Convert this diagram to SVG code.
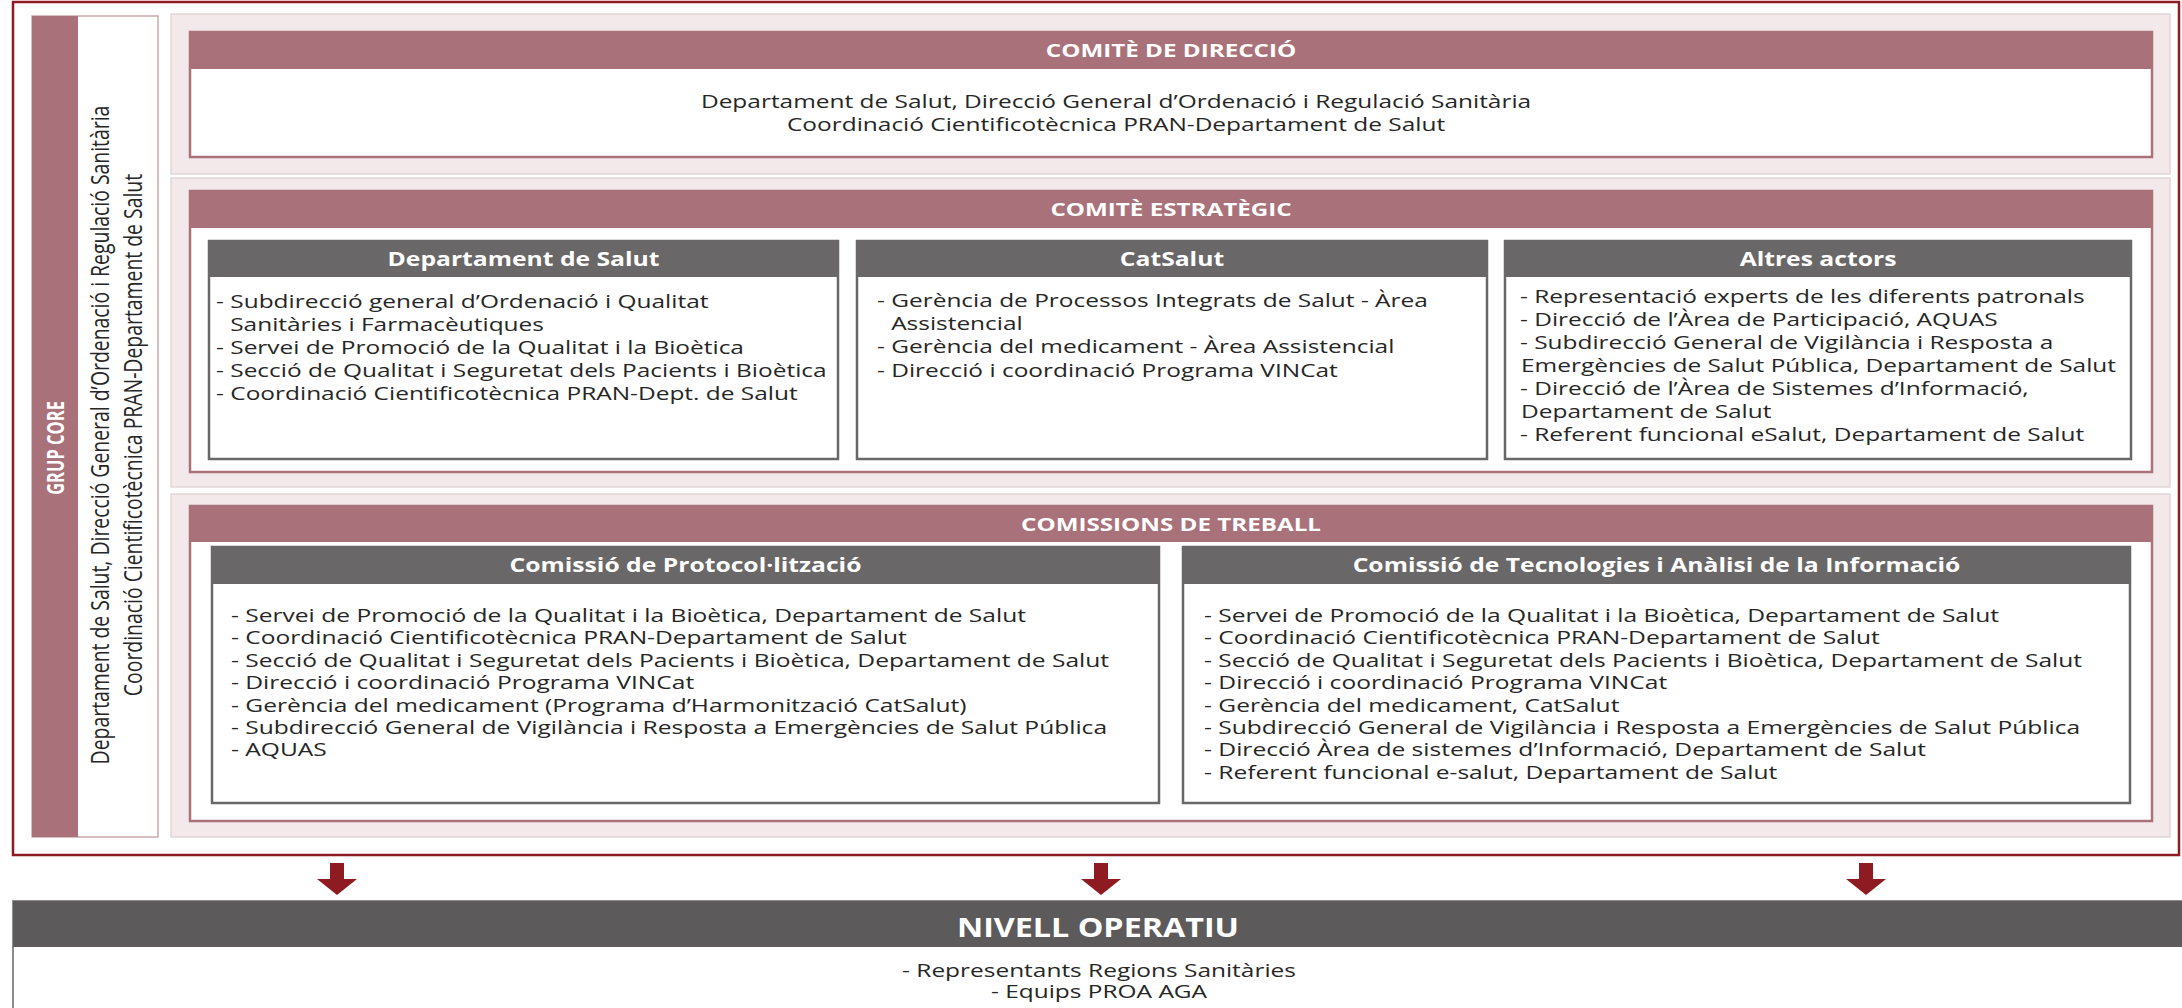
<svg xmlns="http://www.w3.org/2000/svg" width="2182" height="1008" viewBox="0 0 2182 1008">
<defs>
<style>
.t{font-family:"Open Sans","Liberation Sans",sans-serif;fill:#262626;}
.b{font-size:18.8px}
.c{font-size:18.9px}
.h{font-family:"Open Sans","Liberation Sans",sans-serif;font-weight:700;fill:#ffffff;text-anchor:middle}
.mauve{fill:#a9717a}
.sec{fill:#f3e9ea;stroke:#e2d6d7;stroke-width:1.5}
.panel{fill:#ffffff;stroke:#a9717a;stroke-width:2.5}
.box{fill:#ffffff;stroke:#6a6768;stroke-width:2.5}
.gh{fill:#6a6768}
.arrow{fill:#8e1b22}
</style>
</defs>
<rect width="2182" height="1008" fill="#ffffff"/>
<rect id="frame" x="13" y="2" width="2166" height="853" fill="none" stroke="#8e1b22" stroke-width="2.5"/>

<g id="grup-core">
<rect x="32" y="16" width="126" height="821" fill="#ffffff" stroke="#c9a9ad" stroke-width="1.5"/>
<rect x="32" y="16" width="46" height="821" class="mauve"/>
<text class="h" font-size="16.5" transform="translate(64,448) rotate(-90) scale(1,1.45)">GRUP CORE</text>
<text class="t" font-size="19.4" text-anchor="middle" transform="translate(109,435) rotate(-90) scale(1,1.3)">Departament de Salut, Direcció General d’Ordenació i Regulació Sanitària</text>
<text class="t" font-size="19.4" text-anchor="middle" transform="translate(142,435) rotate(-90) scale(1,1.3)">Coordinació Cientificotècnica PRAN-Departament de Salut</text>
</g>

<g id="comite-direccio">
<rect class="sec" x="171" y="14" width="1999" height="160"/>
<rect class="panel" x="190" y="32" width="1962" height="125"/>
<rect class="mauve" x="190" y="32" width="1962" height="37"/>
<g transform="scale(1.3 1)">
<text class="h" font-size="18.6" x="900.8" y="57">COMITÈ DE DIRECCIÓ</text>
<text class="t b" text-anchor="middle" x="858.5" y="108">Departament de Salut, Direcció General d’Ordenació i Regulació Sanitària</text>
<text class="t b" text-anchor="middle" x="858.5" y="131">Coordinació Cientificotècnica PRAN-Departament de Salut</text>
</g>
</g>

<g id="comite-estrategic">
<rect class="sec" x="171" y="178" width="1999" height="309"/>
<rect class="panel" x="190" y="191" width="1962" height="281"/>
<rect class="mauve" x="190" y="191" width="1962" height="37"/>
<g transform="scale(1.3 1)">
<text class="h" font-size="18.6" x="900.8" y="216">COMITÈ ESTRATÈGIC</text>
</g>
</g>

<g id="departament-salut">
<rect class="box" x="209" y="241" width="629" height="218"/>
<rect class="gh" x="209" y="241" width="629" height="36"/>
<g transform="scale(1.3 1)">
<text class="h" font-size="19" x="402.7" y="266">Departament de Salut</text>
<text class="t b" x="166.2" y="308">- Subdirecció general d’Ordenació i Qualitat</text>
<text class="t b" x="177.1" y="331">Sanitàries i Farmacèutiques</text>
<text class="t b" x="166.2" y="354">- Servei de Promoció de la Qualitat i la Bioètica</text>
<text class="t b" x="166.2" y="377">- Secció de Qualitat i Seguretat dels Pacients i Bioètica</text>
<text class="t b" x="166.2" y="400">- Coordinació Cientificotècnica PRAN-Dept. de Salut</text>
</g>
</g>

<g id="catsalut">
<rect class="box" x="857" y="241" width="630" height="218"/>
<rect class="gh" x="857" y="241" width="630" height="36"/>
<g transform="scale(1.3 1)">
<text class="h" font-size="19" x="901.5" y="266">CatSalut</text>
<text class="t b" x="674.6" y="307">- Gerència de Processos Integrats de Salut - Àrea</text>
<text class="t b" x="685.5" y="330">Assistencial</text>
<text class="t b" x="674.6" y="353">- Gerència del medicament - Àrea Assistencial</text>
<text class="t b" x="674.6" y="377">- Direcció i coordinació Programa VINCat</text>
</g>
</g>

<g id="altres-actors">
<rect class="box" x="1505" y="241" width="626" height="218"/>
<rect class="gh" x="1505" y="241" width="626" height="36"/>
<g transform="scale(1.3 1)">
<text class="h" font-size="19" x="1398.5" y="266">Altres actors</text>
<text class="t b" x="1169.2" y="303">- Representació experts de les diferents patronals</text>
<text class="t b" x="1169.2" y="326">- Direcció de l’Àrea de Participació, AQUAS</text>
<text class="t b" x="1169.2" y="349">- Subdirecció General de Vigilància i Resposta a</text>
<text class="t b" x="1170" y="372">Emergències de Salut Pública, Departament de Salut</text>
<text class="t b" x="1169.2" y="395">- Direcció de l’Àrea de Sistemes d’Informació,</text>
<text class="t b" x="1170" y="418">Departament de Salut</text>
<text class="t b" x="1169.2" y="441">- Referent funcional eSalut, Departament de Salut</text>
</g>
</g>

<g id="comissions-treball">
<rect class="sec" x="171" y="494" width="1999" height="343"/>
<rect class="panel" x="190" y="506" width="1962" height="315"/>
<rect class="mauve" x="190" y="506" width="1962" height="36"/>
<g transform="scale(1.3 1)">
<text class="h" font-size="18.6" x="900.8" y="531">COMISSIONS DE TREBALL</text>
</g>
</g>

<g id="comissio-protocol">
<rect class="box" x="212" y="547" width="947" height="256"/>
<rect class="gh" x="212" y="547" width="947" height="37"/>
<g transform="scale(1.3 1)">
<text class="h" font-size="19" x="527.3" y="572">Comissió de Protocol·lització</text>
<text class="t c" x="177.7" y="622">- Servei de Promoció de la Qualitat i la Bioètica, Departament de Salut</text>
<text class="t c" x="177.7" y="644.4">- Coordinació Cientificotècnica PRAN-Departament de Salut</text>
<text class="t c" x="177.7" y="666.8">- Secció de Qualitat i Seguretat dels Pacients i Bioètica, Departament de Salut</text>
<text class="t c" x="177.7" y="689.2">- Direcció i coordinació Programa VINCat</text>
<text class="t c" x="177.7" y="711.6">- Gerència del medicament (Programa d’Harmonització CatSalut)</text>
<text class="t c" x="177.7" y="734">- Subdirecció General de Vigilància i Resposta a Emergències de Salut Pública</text>
<text class="t c" x="177.7" y="756.4">- AQUAS</text>
</g>
</g>

<g id="comissio-tecnologies">
<rect class="box" x="1183" y="547" width="947" height="256"/>
<rect class="gh" x="1183" y="547" width="947" height="37"/>
<g transform="scale(1.3 1)">
<text class="h" font-size="19" x="1274.2" y="572">Comissió de Tecnologies i Anàlisi de la Informació</text>
<text class="t c" x="926.2" y="622">- Servei de Promoció de la Qualitat i la Bioètica, Departament de Salut</text>
<text class="t c" x="926.2" y="644.4">- Coordinació Cientificotècnica PRAN-Departament de Salut</text>
<text class="t c" x="926.2" y="666.8">- Secció de Qualitat i Seguretat dels Pacients i Bioètica, Departament de Salut</text>
<text class="t c" x="926.2" y="689.2">- Direcció i coordinació Programa VINCat</text>
<text class="t c" x="926.2" y="711.6">- Gerència del medicament, CatSalut</text>
<text class="t c" x="926.2" y="734">- Subdirecció General de Vigilància i Resposta a Emergències de Salut Pública</text>
<text class="t c" x="926.2" y="756.4">- Direcció Àrea de sistemes d’Informació, Departament de Salut</text>
<text class="t c" x="926.2" y="778.8">- Referent funcional e-salut, Departament de Salut</text>
</g>
</g>

<g id="connectors">
<path class="arrow" d="M330,863 H344 V879 H357 L337,895 L317,879 H330 Z"/>
<path class="arrow" d="M1094,863 H1108 V879 H1121 L1101,895 L1081,879 H1094 Z"/>
<path class="arrow" d="M1859,863 H1873 V879 H1886 L1866,895 L1846,879 H1859 Z"/>
</g>

<g id="nivell-operatiu">
<rect x="13" y="901" width="2180" height="120" fill="#ffffff" stroke="#8c8c8c" stroke-width="2"/>
<rect x="13" y="901" width="2180" height="46" fill="#5c5a5b"/>
<g transform="scale(1.3 1)">
<text class="h" font-size="27" x="844.6" y="937" textLength="217" lengthAdjust="spacingAndGlyphs">NIVELL OPERATIU</text>
<text class="t" font-size="18.8" text-anchor="middle" x="845.4" y="977">- Representants Regions Sanitàries</text>
<text class="t" font-size="18.8" text-anchor="middle" x="845.4" y="998">- Equips PROA AGA</text>
</g>
</g>
</svg>
